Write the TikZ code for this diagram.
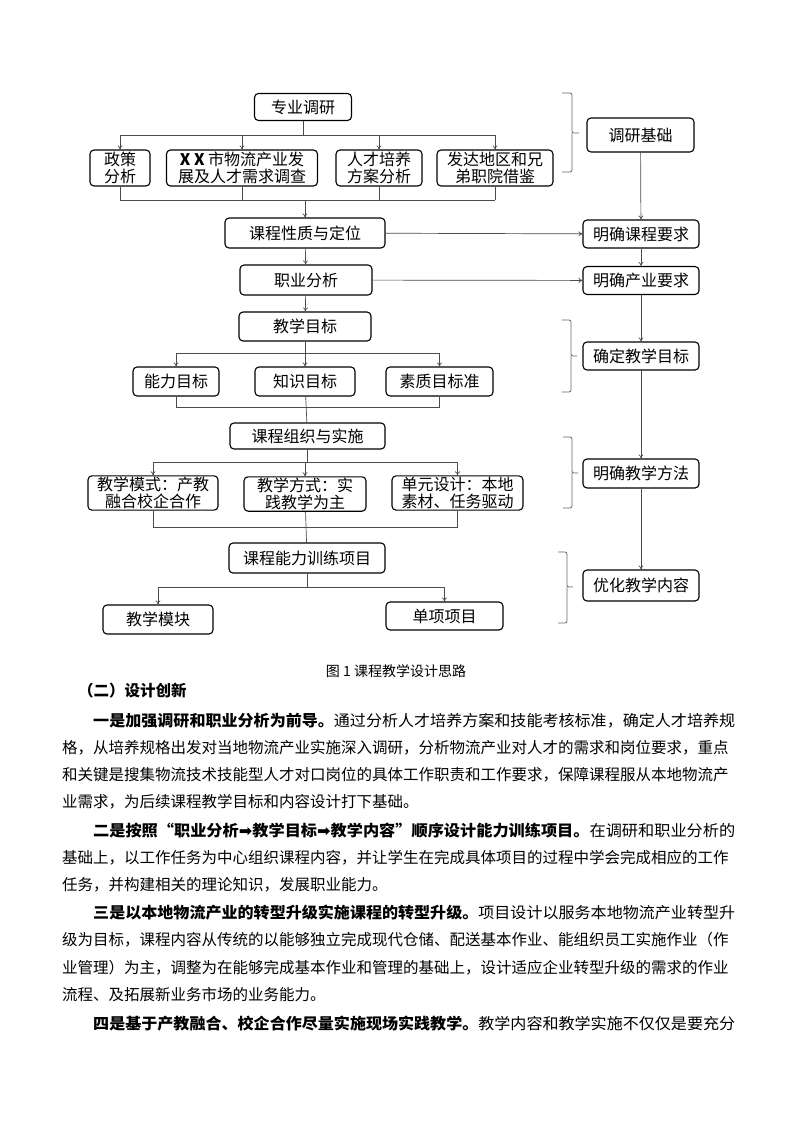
\documentclass[tikz,border=0pt]{standalone}
\usepackage{graphicx}
\usepackage{fontspec}
\setmainfont{Noto Sans CJK SC}
\newfontfamily\symfont{DejaVu Sans}
\usetikzlibrary{arrows.meta}
\XeTeXlinebreaklocale "zh"
\XeTeXlinebreakskip=0pt plus 2pt
\newcommand\fl{\parfillskip=0pt\relax}
\newcommand\leadline[1]{\resizebox{642pt}{\height}{#1}}

\begin{document}
\begin{tikzpicture}[x=1pt,y=-1pt,
    box/.style={draw=black,line width=1.1pt,rounded corners=4pt,inner sep=1pt,align=center,font=\fontsize{16}{17.5}\selectfont},
    line/.style={draw=black!70,line width=0.7pt},
    arr/.style={line,-{To[length=4pt,width=5pt]}},
    brace/.style={draw=black!60,line width=0.8pt,rounded corners=2pt},
    body/.style={anchor=west,inner sep=0pt,text width=673pt,align=justify,font=\fontsize{15.5}{20}\selectfont},
    tail/.style={anchor=west,inner sep=0pt,font=\fontsize{15.5}{20}\selectfont}]
    \fill[white] (0,0) rectangle (793,1122);
    \useasboundingbox (0,0) rectangle (793,1122);

    \node[box,minimum width=97pt,minimum height=27pt] (zy) at (303,107) {专业调研};
    \node[box,minimum width=60pt,minimum height=36pt] (zc) at (120,168) {政策\\分析};
    \node[box,minimum width=151pt,minimum height=36pt] (sc) at (242,168) {{\bfseries X X} 市物流产业发\\展及人才需求调查};
    \node[box,minimum width=86pt,minimum height=36pt] (rc) at (379,168) {人才培养\\方案分析};
    \node[box,minimum width=116pt,minimum height=36pt] (fd) at (495,168) {发达地区和兄\\弟职院借鉴};
    \node[box,minimum width=160pt,minimum height=30pt] (kc) at (305,233) {课程性质与定位};
    \node[box,minimum width=132pt,minimum height=30pt] (zf) at (306,280) {职业分析};
    \node[box,minimum width=132pt,minimum height=29pt] (jm) at (305,326.5) {教学目标};
    \node[box,minimum width=86pt,minimum height=29pt] (nl) at (176,381.5) {能力目标};
    \node[box,minimum width=100pt,minimum height=29pt] (zs) at (305,381.5) {知识目标};
    \node[box,minimum width=107pt,minimum height=29pt] (sz) at (439.5,381.5) {素质目标准};
    \node[box,minimum width=155pt,minimum height=26pt] (zz) at (307.5,436) {课程组织与实施};
    \node[box,minimum width=130pt,minimum height=32pt] (ms) at (153,493) {教学模式：产教\\融合校企合作};
    \node[box,minimum width=122pt,minimum height=32pt] (fs) at (305,494) {教学方式：实\\践教学为主};
    \node[box,minimum width=131pt,minimum height=32pt] (dy) at (457.5,493) {单元设计：本地\\素材、任务驱动};
    \node[box,minimum width=156pt,minimum height=30pt] (xl) at (307,558) {课程能力训练项目};
    \node[box,minimum width=110pt,minimum height=29pt] (mk) at (158,619.5) {教学模块};
    \node[box,minimum width=117pt,minimum height=28pt] (dx) at (444.5,616) {单项项目};

    \node[box,minimum width=107pt,minimum height=34pt] (jc) at (640.5,135) {调研基础};
    \node[box,minimum width=116pt,minimum height=28pt] (kq) at (641,234) {明确课程要求};
    \node[box,minimum width=116pt,minimum height=28pt] (cq) at (641,280.5) {明确产业要求};
    \node[box,minimum width=116pt,minimum height=28pt] (qd) at (641,356) {确定教学目标};
    \node[box,minimum width=116pt,minimum height=29pt] (ff) at (641,473.5) {明确教学方法};
    \node[box,minimum width=116pt,minimum height=31pt] (yh) at (641,585.5) {优化教学内容};

    \draw[line] (zy) -- (zy |- 0,135);
    \draw[line] (zc |- 0,135) -- (fd |- 0,135);
    \draw[arr] (zc |- 0,135) -- (zc);
    \draw[arr] (sc |- 0,135) -- (sc);
    \draw[arr] (rc |- 0,135) -- (rc);
    \draw[arr] (fd |- 0,135) -- (fd);
    \draw[line] (zc) -- (zc |- 0,200);
    \draw[line] (sc) -- (sc |- 0,200);
    \draw[line] (rc) -- (rc |- 0,200);
    \draw[line] (fd) -- (fd |- 0,200);
    \draw[line] (zc |- 0,200) -- (fd |- 0,200);
    \draw[arr] (kc |- 0,200) -- (kc);
    \draw[arr] (kc) -- (kq);
    \draw[arr] (kc) -- (zf);
    \draw[arr] (zf) -- (cq);
    \draw[arr] (zf) -- (jm);
    \draw[line] (jm) -- (jm |- 0,353);
    \draw[line] (nl |- 0,353) -- (sz |- 0,353);
    \draw[arr] (nl |- 0,353) -- (nl);
    \draw[arr] (zs |- 0,353) -- (zs);
    \draw[arr] (sz |- 0,353) -- (sz);
    \draw[line] (nl) -- (nl |- 0,407);
    \draw[line] (sz) -- (sz |- 0,407);
    \draw[line] (nl |- 0,407) -- (sz |- 0,407);
    \draw[line] (zs) -- (zz);
    \draw[line] (zz) -- (zz |- 0,462);
    \draw[line] (ms |- 0,462) -- (dy |- 0,462);
    \draw[arr] (ms |- 0,462) -- (ms);
    \draw[arr] (fs |- 0,462) -- (fs);
    \draw[arr] (dy |- 0,462) -- (dy);
    \draw[line] (ms) -- (ms |- 0,527);
    \draw[line] (dy) -- (dy |- 0,527);
    \draw[line] (ms |- 0,527) -- (dy |- 0,527);
    \draw[line] (fs) -- (xl);
    \draw[line] (xl) -- (xl |- 0,587);
    \draw[line] (mk |- 0,587) -- (dx |- 0,587);
    \draw[arr] (mk |- 0,587) -- (mk);
    \draw[arr] (dx |- 0,587) -- (dx);
    \draw[arr] (jc) -- (kq);
    \draw[arr] (kq) -- (cq);
    \draw[arr] (cq) -- (qd);
    \draw[arr] (qd) -- (ff);
    \draw[arr] (ff) -- (yh);

    \draw[brace] (562,93) -| (572,133) -- (579,133);
    \draw[brace] (572,133) |- (562,172);
    \draw[brace] (562,320) -| (571,356) -- (577,356);
    \draw[brace] (571,356) |- (562,392);
    \draw[brace] (563,437) -| (572,473) -- (578,473);
    \draw[brace] (572,473) |- (563,508);
    \draw[brace] (558,552) -| (567,587) -- (573,587);
    \draw[brace] (567,587) |- (558,623);

    \node[font=\fontsize{14}{16}\selectfont] (cap) at (396,671) {图 1\ 课程教学设计思路};
    \node[tail,font=\fontsize{15.5}{20}\selectfont\bfseries] (h2) at (78,691) {（二）设计创新};
    \node[tail] (p1) at (93,721) {\leadline{\textbf{一是加强调研和职业分析为前导。}通过分析人才培养方案和技能考核标准，确定人才培养规}};
    \node[body] (p2) at (62,748) {\fl 格，从培养规格出发对当地物流产业实施深入调研，分析物流产业对人才的需求和岗位要求，重点};
    \node[body] (p3) at (62,775) {\fl 和关键是搜集物流技术技能型人才对口岗位的具体工作职责和工作要求，保障课程服从本地物流产};
    \node[tail] (p4) at (62,802) {业需求，为后续课程教学目标和内容设计打下基础。};
    \node[tail] (p5) at (93,831) {\leadline{\textbf{二是按照“职业分析{\symfont ➡}教学目标{\symfont ➡}教学内容”顺序设计能力训练项目。}在调研和职业分析的}};
    \node[body] (p6) at (62,858) {\fl 基础上，以工作任务为中心组织课程内容，并让学生在完成具体项目的过程中学会完成相应的工作};
    \node[tail] (p7) at (62,885) {任务，并构建相关的理论知识，发展职业能力。};
    \node[tail] (p8) at (93,913) {\leadline{\textbf{三是以本地物流产业的转型升级实施课程的转型升级。}项目设计以服务本地物流产业转型升}};
    \node[body] (p9) at (62,940) {\fl 级为目标，课程内容从传统的以能够独立完成现代仓储、配送基本作业、能组织员工实施作业（作};
    \node[body] (p10) at (62,968) {\fl 业管理）为主，调整为在能够完成基本作业和管理的基础上，设计适应企业转型升级的需求的作业};
    \node[tail] (p11) at (62,995) {流程、及拓展新业务市场的业务能力。};
    \node[tail] (p12) at (93,1024) {\leadline{\textbf{四是基于产教融合、校企合作尽量实施现场实践教学。}教学内容和教学实施不仅仅是要充分}};
\end{tikzpicture}
\end{document}
